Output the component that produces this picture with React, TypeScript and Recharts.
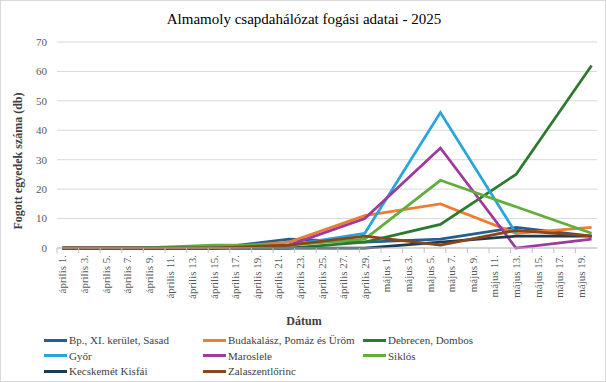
import React from 'react';
import { LineChart, Line, XAxis, YAxis, CartesianGrid } from 'recharts';

// trap check dates (weekly)
const sampleDates = [
  '2025-04-01', '2025-04-08', '2025-04-15', '2025-04-22',
  '2025-04-29', '2025-05-06', '2025-05-13', '2025-05-20',
];

const tickLabels = [
  'április 1.', 'április 3.', 'április 5.', 'április 7.', 'április 9.',
  'április 11.', 'április 13.', 'április 15.', 'április 17.', 'április 19.',
  'április 21.', 'április 23.', 'április 25.', 'április 27.', 'április 29.',
  'május 1.', 'május 3.', 'május 5.', 'május 7.', 'május 9.',
  'május 11.', 'május 13.', 'május 15.', 'május 17.', 'május 19.',
];

const yTicks = [0, 10, 20, 30, 40, 50, 60, 70];

const bpSasad = [0, 0, 0, 3, 2, 3, 7, 4];
const budakalasz = [0, 0, 0, 2, 11, 15, 5, 7];
const debrecen = [0, 0, 0, 0, 2, 8, 25, 62];
const gyor = [0, 0, 0, 1, 5, 46, 5, null];
const maroslele = [0, 0, 0, 1, 10, 34, 0, 3];
const siklos = [0, 0, 1, 1, 3, 23, 14, 5];
const kecskemet = [0, 0, 0, 0, 0, 2, 4, 4];
const zala = [0, 0, 0, 1, 4, 1, 6, 4];

const series = [
  { key: 'bp', name: 'Bp., XI. kerület, Sasad', color: '#255E91', values: bpSasad },
  { key: 'buda', name: 'Budakalász, Pomáz és Üröm', color: '#ED7D31', values: budakalasz },
  { key: 'deb', name: 'Debrecen, Dombos', color: '#2B7A2E', values: debrecen },
  { key: 'gyor', name: 'Győr', color: '#27A6DC', values: gyor },
  { key: 'maros', name: 'Maroslele', color: '#9E3A9C', values: maroslele },
  { key: 'sik', name: 'Siklós', color: '#62AE3D', values: siklos },
  { key: 'kecs', name: 'Kecskemét Kisfái', color: '#1E3A4E', values: kecskemet },
  { key: 'zala', name: 'Zalaszentlőrinc', color: '#8A451A', values: zala },
];

const start = Date.parse('2025-04-01');
const data = sampleDates.map((d, i) => {
  const row: any = { day: Math.round((Date.parse(d) - start) / 86400000) };
  series.forEach((s) => {
    row[s.key] = s.values[i];
  });
  return row;
});

const xTicks = tickLabels.map((_, i) => i * 2);
const font = 'Liberation Serif, DejaVu Serif, serif';

const DateTick = ({ x, y, payload }: any) => (
  <g>
    <line x1={x - 5.4} x2={x - 5.4} y1={y} y2={y + 5} stroke="#bfbfbf" />
    <text
      transform={`translate(${x},${y + 7}) rotate(-90)`}
      textAnchor="end"
      dominantBaseline="central"
      fontSize={11}
      fontFamily={font}
      fill="#595959"
    >
      {tickLabels[payload.value / 2]}
    </text>
  </g>
);

export default function App() {
  return (
    <div
      style={{
        position: 'absolute',
        left: 0,
        top: 0,
        width: 604,
        height: 380,
        border: '1px solid #d9d9d9',
        background: '#fff',
        fontFamily: font,
      }}
    >
      <div
        style={{
          position: 'absolute',
          top: 10,
          left: 0,
          width: 606,
          textAlign: 'center',
          fontSize: 15,
          color: '#000',
        }}
      >
        Almamoly csapdahálózat fogási adatai - 2025
      </div>
      <LineChart
        width={606}
        height={382}
        data={data}
        margin={{ top: 42, right: 9, bottom: 74, left: 0 }}
        style={{ position: 'absolute', left: -1, top: -1, fontFamily: font }}
      >
        <CartesianGrid vertical={false} stroke="#d9d9d9" />
        <XAxis
          type="number"
          dataKey="day"
          domain={[-0.5, 49.5]}
          ticks={xTicks}
          interval={0}
          height={60}
          tickSize={0}
          tickMargin={0}
          tickLine={false}
          axisLine={{ stroke: '#bfbfbf' }}
          tick={<DateTick />}
        />
        <YAxis
          domain={[0, 70]}
          ticks={yTicks}
          width={57}
          tickLine={false}
          axisLine={false}
          tickMargin={4}
          tick={{ fontSize: 11, fill: '#595959', fontFamily: font }}
          label={{
            value: 'Fogott egyedek száma (db)',
            angle: -90,
            position: 'insideLeft',
            offset: 18,
            dy: 16,
            style: { textAnchor: 'middle', fontSize: 12, fontWeight: 'bold', fill: '#404040', fontFamily: font },
          }}
        />
        {series.map((s) => (
          <Line
            key={s.key}
            type="linear"
            dataKey={s.key}
            name={s.name}
            stroke={s.color}
            strokeWidth={2.75}
            dot={false}
            isAnimationActive={false}
          />
        ))}
      </LineChart>
      <div
        style={{
          position: 'absolute',
          top: 313,
          left: 0,
          width: 606,
          textAlign: 'center',
          fontSize: 12,
          fontWeight: 'bold',
          color: '#404040',
        }}
      >
        Dátum
      </div>
      <div
        style={{
          position: 'absolute',
          top: 332,
          left: 43,
          display: 'grid',
          gridTemplateColumns: '159px 160px 160px',
          rowGap: 1,
          fontSize: 11,
          color: '#404040',
          whiteSpace: 'nowrap',
        }}
      >
        {series.map((s) => (
          <div key={s.key} style={{ display: 'flex', alignItems: 'center', height: 14.5 }}>
            <span style={{ display: 'inline-block', width: 23, height: 3, background: s.color, marginRight: 2 }} />
            <span>{s.name}</span>
          </div>
        ))}
      </div>
    </div>
  );
}
